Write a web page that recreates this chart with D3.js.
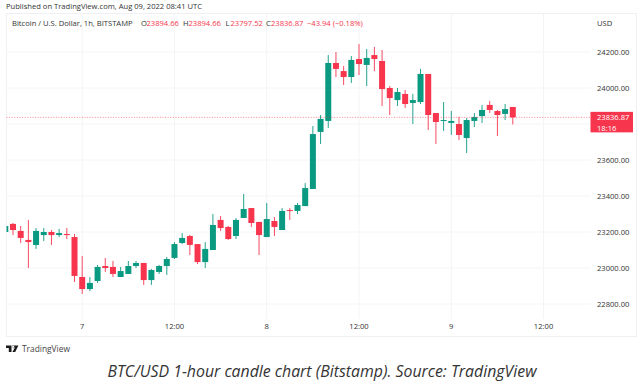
<!DOCTYPE html>
<html>
<head>
<meta charset="utf-8">
<script src="https://cdn.jsdelivr.net/npm/d3@7"></script>
<style>
  html, body { margin: 0; padding: 0; background: #fff; }
  svg { display: block; }
  text { font-family: "Open Sans", sans-serif; }
</style>
</head>
<body>
<div id="chart"></div>
<script>
// hours counted from Aug 7 00:00
const hours = d3.range(-10, 57);
const opens = [23200,23245,23206,23156,23128,23183,23200,23183,23189,23172,22950,22883,22928,23011,23006,22950,22967,23011,23028,22933,22978,23011,23056,23139,23178,23133,23033,23100,23267,23228,23178,23278,23333,23256,23172,23261,23211,23322,23317,23344,23439,23756,23817,24139,24094,24061,24161,24128,24183,24150,24000,23933,23967,23917,23922,24078,23861,23817,23806,23800,23722,23817,23844,23906,23872,23856,23894.66];
const highs = [23233,23250,23233,23267,23222,23222,23211,23217,23222,23189,23067,22950,23017,23056,23039,23006,23039,23039,23028,22994,23017,23061,23144,23194,23183,23133,23144,23300,23289,23233,23278,23411,23333,23256,23361,23283,23333,23333,23361,23472,23789,23850,24183,24200,24122,24178,24244,24217,24228,24211,24011,24000,23989,23967,24106,24078,23861,23922,23872,23839,23833,23861,23906,23928,23878,23911,23894.66];
const lows = [23200,23183,23139,23000,23106,23150,23128,23172,23161,22922,22856,22872,22917,22978,22950,22950,22967,23000,22906,22906,22967,22961,23050,23133,23072,23022,23000,23100,23206,23156,23161,23278,23228,23072,23172,23178,23211,23267,23300,23344,23439,23689,23778,24061,24017,24028,24072,24011,24094,23900,23850,23900,23889,23800,23911,23767,23689,23761,23739,23711,23639,23783,23806,23861,23733,23822,23797.52];
const closes = [23233,23211,23167,23144,23206,23200,23183,23194,23183,22956,22883,22917,23006,23000,22967,22983,23011,23028,22933,22989,23011,23050,23133,23167,23128,23033,23106,23239,23222,23161,23267,23328,23250,23183,23272,23228,23317,23317,23350,23444,23744,23828,24139,24106,24061,24156,24133,24167,24161,23994,23944,23978,23911,23933,24078,23850,23811,23822,23817,23739,23822,23839,23878,23878,23850,23883,23836.87];

const priceTicks = [24200, 24000, 23800, 23600, 23400, 23200, 23000, 22800];
const priceLabels = ["24200.00", "24000.00", "", "23600.00", "23400.00", "23200.00", "23000.00", "22800.00"];
const timeTicks = [0, 12, 24, 36, 48, 60];
const timeLabels = ["7", "12:00", "8", "12:00", "9", "12:00"];
const lastPrice = 23836.87;

const legendParts = [
  ["Bitcoin / U.S. Dollar, 1h, BITSTAMP", 12, "#333"],
  ["O", 141, "#333"], ["23894.66", 146.5, "#f7364e"],
  ["H", 183, "#333"], ["23894.66", 188.5, "#f7364e"],
  ["L", 225.5, "#333"], ["23797.52", 230.5, "#f7364e"],
  ["C", 266, "#333"], ["23836.87", 271, "#f7364e"],
  ["\u221243.94 (\u22120.18%)", 307, "#f7364e"]
];

const WIDTH = 642, HEIGHT = 386;
const LEFT = 6.5, RIGHT = 590.5, TOP = 13.5, PLOT_BOTTOM = 319, BOTTOM = 336.5, FRAME_RIGHT = 636.5;
const UP = "#0a9981", DOWN = "#f7364e", GRID = "#f3f4f6", FRAME = "#eef0f4", INK = "#333";
const FONT = 7.6;

const svg = d3.select("#chart").append("svg").attr("width", WIDTH).attr("height", HEIGHT);

const x = d3.scaleLinear().domain([0, 56]).range([82.2, 512.8]);
const y = d3.scaleLinear().domain([22800, 24200]).range([304, 52]);

svg.append("rect")
  .attr("x", LEFT).attr("y", TOP)
  .attr("width", FRAME_RIGHT - LEFT).attr("height", BOTTOM - TOP)
  .attr("fill", "#fff").attr("stroke", FRAME);

// grid
const gGrid = svg.append("g");
gGrid.selectAll("line.h").data(priceTicks).enter().append("line").attr("class", "h")
  .attr("x1", LEFT).attr("x2", RIGHT)
  .attr("y1", d => y(d)).attr("y2", d => y(d))
  .attr("stroke", GRID);
gGrid.selectAll("line.v").data(timeTicks).enter().append("line").attr("class", "v")
  .attr("x1", d => x(d)).attr("x2", d => x(d))
  .attr("y1", TOP).attr("y2", PLOT_BOTTOM)
  .attr("stroke", GRID);

// axes
const yAxis = d3.axisRight(y).tickValues(priceTicks).tickSize(0).tickPadding(0)
  .tickFormat((d, i) => priceLabels[i]);
const gY = svg.append("g").attr("transform", `translate(597,0)`).call(yAxis);
gY.select(".domain").remove();
gY.selectAll("text").attr("font-size", FONT).attr("fill", INK);

const xAxis = d3.axisBottom(x).tickValues(timeTicks).tickSize(0).tickPadding(0)
  .tickFormat((d, i) => timeLabels[i]);
const gX = svg.append("g").attr("transform", `translate(-0.5,323.5)`).call(xAxis);
gX.select(".domain").remove();
gX.selectAll("text").attr("font-size", FONT).attr("fill", INK);

svg.append("clipPath").attr("id", "plot").append("rect")
  .attr("x", LEFT).attr("y", TOP).attr("width", RIGHT - LEFT).attr("height", BOTTOM - TOP);

// candles
const candles = svg.append("g").attr("clip-path", "url(#plot)")
  .selectAll("g").data(hours).enter().append("g")
  .attr("fill", (d, i) => closes[i] >= opens[i] ? UP : DOWN)
  .attr("stroke", (d, i) => closes[i] >= opens[i] ? UP : DOWN);

candles.append("line")
  .attr("x1", d => x(d)).attr("x2", d => x(d))
  .attr("y1", (d, i) => y(highs[i])).attr("y2", (d, i) => y(lows[i]))
  .attr("stroke-width", 0.9);

candles.append("rect")
  .attr("x", d => x(d) - 3).attr("width", 6)
  .attr("y", (d, i) => y(Math.max(opens[i], closes[i])))
  .attr("height", (d, i) => Math.max(1, Math.abs(y(opens[i]) - y(closes[i]))))
  .attr("stroke", "none");

// last price line and tag
svg.append("line")
  .attr("x1", LEFT).attr("x2", RIGHT)
  .attr("y1", y(lastPrice)).attr("y2", y(lastPrice))
  .attr("stroke", DOWN).attr("stroke-width", 0.8).attr("stroke-dasharray", "1 1.6").attr("opacity", 0.75);

svg.append("rect")
  .attr("x", RIGHT).attr("y", y(lastPrice) - 5.5)
  .attr("width", 42.5).attr("height", 20.5)
  .attr("fill", DOWN);
svg.append("text").attr("x", 597).attr("y", y(lastPrice) + 3)
  .attr("font-size", FONT).attr("fill", "#fff").text("23836.87");
svg.append("text").attr("x", 597).attr("y", y(lastPrice) + 13.3)
  .attr("font-size", FONT).attr("fill", "#fff").text("18:16");

svg.append("text").attr("x", 597).attr("y", 25.5)
  .attr("font-size", FONT).attr("fill", INK).text("USD");

// header and legend
svg.append("text").attr("x", 6).attr("y", 9)
  .attr("font-size", FONT).attr("fill", INK)
  .text("Published on TradingView.com, Aug 09, 2022 08:41 UTC");

svg.append("g").selectAll("text").data(legendParts).enter().append("text")
  .attr("x", d => d[1]).attr("y", 26)
  .attr("font-size", FONT)
  .attr("fill", d => d[2])
  .text(d => d[0]);

// TradingView logo
svg.append("path")
  .attr("transform", "translate(6,345.5)")
  .attr("d", "M0 0H5.5V6.5H2.8V2.5H0Z M6.2 0H12.4L9.2 6.5H6.4L8.8 2.2H6.2Z M6 1.6A1.2 1.2 0 1 0 6 1.5Z")
  .attr("fill", "#1a1a1a");
svg.append("text").attr("x", 22).attr("y", 352)
  .attr("font-size", 8.4).attr("fill", "#444").text("TradingView");

// caption
svg.append("text").attr("x", 322).attr("y", 377)
  .attr("text-anchor", "middle")
  .attr("font-size", 15.85).attr("font-style", "italic").attr("fill", "#333")
  .text("BTC/USD 1-hour candle chart (Bitstamp). Source: TradingView");
</script>
</body>
</html>
